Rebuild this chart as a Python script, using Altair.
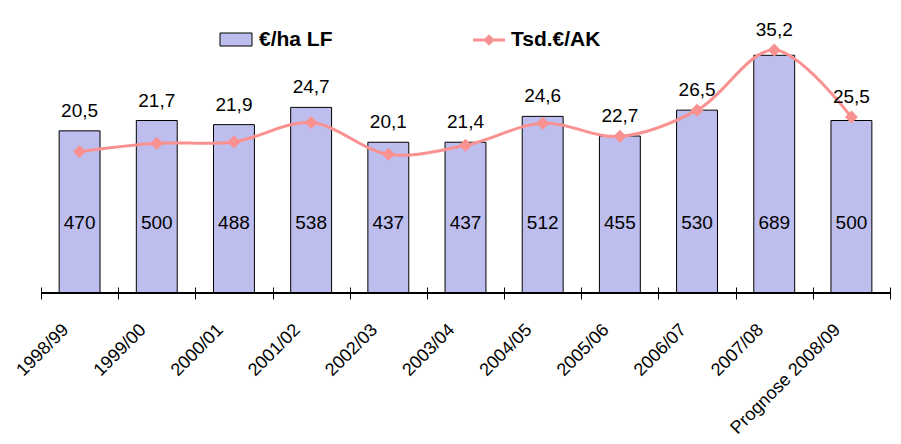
import altair as alt
import pandas as pd

categories = ["1998/99", "1999/00", "2000/01", "2001/02", "2002/03", "2003/04",
              "2004/05", "2005/06", "2006/07", "2007/08", "Prognose 2008/09"]
eur_ha = [470, 500, 488, 538, 437, 437, 512, 455, 530, 689, 500]
tsd_ak = [20.5, 21.7, 21.9, 24.7, 20.1, 21.4, 24.6, 22.7, 26.5, 35.2, 25.5]

BAR_FILL = "#BEBEEE"
LINE_COL = "#F99191"
FONT = "Liberation Sans"

df = pd.DataFrame({"cat": categories, "ha": eur_ha, "ak": tsd_ak})
df["ak_lbl"] = [f"{v:.1f}".replace(".", ",") for v in tsd_ak]
df["ha_lbl"] = [str(v) for v in eur_ha]

W, H = 849, 276

xenc = alt.X("cat:N", sort=categories, title=None,
             scale=alt.Scale(paddingInner=0, paddingOuter=0),
             axis=alt.Axis(labelAngle=-45, labelAlign="right", labelBaseline="middle",
                           labelFont=FONT, labelFontSize=18, labelColor="#000000",
                           labelPadding=28, labelOffset=-14, tickBand="extent",
                           tickSize=12, tickColor="#000000", domain=False, offset=-6,
                           grid=False))

base = alt.Chart(df)

ybar = alt.Y("ha:Q", scale=alt.Scale(domain=[0, 800]), axis=None)
bars = base.mark_bar(fill=BAR_FILL, stroke="#000000", strokeWidth=1,
                     width=alt.RelativeBandSize(0.53)).encode(x=xenc, y=ybar)
bar_lbl = base.mark_text(font=FONT, fontSize=19, color="#000000",
                         baseline="middle").encode(
    x=alt.X("cat:N", sort=categories), y=alt.value(206), text="ha_lbl:N")

yline = alt.Scale(domain=[0, 40])
line = base.mark_line(interpolate="catmull-rom", color=LINE_COL, strokeWidth=3).encode(
    x=alt.X("cat:N", sort=categories), y=alt.Y("ak:Q", scale=yline, axis=None))
pts = base.mark_point(shape="diamond", filled=True, size=170, color=LINE_COL,
                      opacity=1).encode(
    x=alt.X("cat:N", sort=categories), y=alt.Y("ak:Q", scale=yline, axis=None))
line_lbl = base.transform_calculate(
    lp="max(datum.ha / 20, datum.ak)").mark_text(
    font=FONT, fontSize=19, color="#000000", baseline="middle", dy=-20).encode(
    x=alt.X("cat:N", sort=categories),
    y=alt.Y("lp:Q", scale=yline, axis=None), text="ak_lbl:N")

baseline = base.mark_rule(color="#000000", strokeWidth=1).encode(
    x=alt.value(0), x2=alt.value(W), y=alt.value(H))

one = alt.Chart(pd.DataFrame({"a": [0]}))
leg_rect = one.mark_rect(fill=BAR_FILL, stroke="#000000", strokeWidth=1).encode(
    x=alt.value(179), x2=alt.value(211), y=alt.value(16), y2=alt.value(29))
leg_txt1 = one.mark_text(font=FONT, fontSize=21, fontWeight="bold", align="left",
                         baseline="middle").encode(
    x=alt.value(218), y=alt.value(23), text=alt.value("€/ha LF"))
leg_rule = one.mark_rule(color=LINE_COL, strokeWidth=3).encode(
    x=alt.value(432), x2=alt.value(464), y=alt.value(23))
leg_pt = one.mark_point(shape="diamond", filled=True, size=130, color=LINE_COL,
                        opacity=1).encode(x=alt.value(448), y=alt.value(23))
leg_txt2 = one.mark_text(font=FONT, fontSize=21, fontWeight="bold", align="left",
                         baseline="middle").encode(
    x=alt.value(470), y=alt.value(23), text=alt.value("Tsd.€/AK"))

bar_layer = alt.layer(bars, bar_lbl, baseline)
line_layer = alt.layer(line, pts, line_lbl)

chart = alt.layer(bar_layer, line_layer, leg_rect, leg_txt1, leg_rule, leg_pt,
                  leg_txt2).resolve_scale(y="independent").properties(
    width=W, height=H,
    autosize=alt.AutoSizeParams(type="none"),
    padding={"left": 33, "top": 9, "right": 3, "bottom": 150},
    background="#FFFFFF",
).configure_view(stroke=None)

chart.save("out.html", embed_options={"renderer": "svg", "actions": False})
